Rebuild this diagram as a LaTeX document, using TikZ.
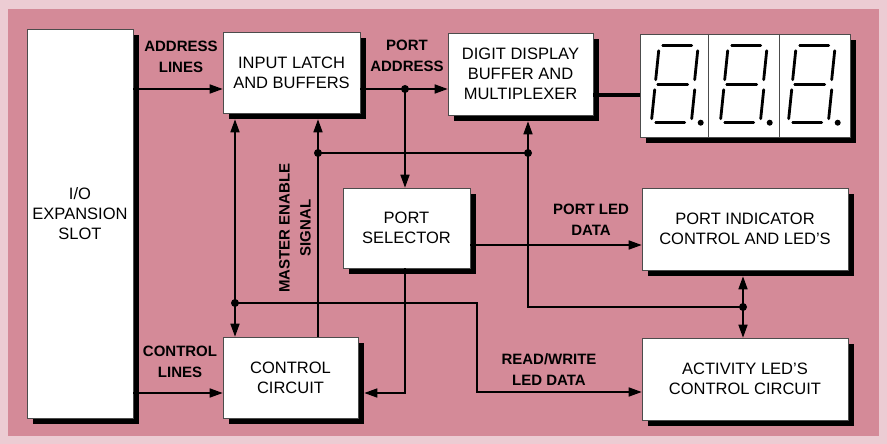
\documentclass[tikz,border=0pt]{standalone}
\usepackage{fontspec}
\setmainfont{Liberation Sans}
\usepackage{xcolor}
\usetikzlibrary{calc, positioning, arrows.meta, shadows}

\definecolor{board}{RGB}{212,138,152}
\definecolor{rim}{RGB}{236,204,211}

\begin{document}
\begin{tikzpicture}[x=1pt, y=-1pt,
  blk/.style={draw=black!70, fill=white, line width=0.6pt, align=center, font=\fontsize{16.5}{20}\selectfont,
    drop shadow={shadow xshift=6pt, shadow yshift=-6pt, fill=black, opacity=1}},
  lbl/.style={align=center, font=\bfseries\fontsize{15}{21}\selectfont},
  wire/.style={line width=1.6pt},
  arr/.style={wire, -{Triangle[length=13pt, width=9pt]}},
  seg/.style={line width=2.8pt, line cap=round}]
\fill[rim] (0,0) rectangle (887,444);
\fill[board] (8,9) rectangle (879,436);

% blocks
\node[blk, minimum width=106pt, minimum height=389pt] (slot) at (80,223.5) {I/O\\EXPANSION\\SLOT\\\mbox{}};
\node[blk, minimum width=137pt, minimum height=81pt] (latch) at (291.5,72.5) {INPUT LATCH\\AND BUFFERS};
\node[blk, minimum width=145pt, minimum height=82pt] (digit) at (520.5,74) {DIGIT DISPLAY\\BUFFER AND\\MULTIPLEXER};
\node[blk, minimum width=210pt, minimum height=103pt, inner sep=0pt] (disp) at (745,85.5) {};
\node[blk, minimum width=127pt, minimum height=80pt] (psel) at (406.5,228) {PORT\\SELECTOR};
\node[blk, minimum width=206pt, minimum height=82pt] (pind) at (745,229) {PORT INDICATOR\\CONTROL AND LED'S};
\node[blk, minimum width=135pt, minimum height=81pt] (ctrl) at (290.5,377.5) {CONTROL\\CIRCUIT};
\node[blk, minimum width=206pt, minimum height=82pt] (act) at (745,379) {ACTIVITY LED'S\\CONTROL CIRCUIT};

% seven segment digits
\foreach \dx in {69,140}
  \draw[black!70, line width=0.6pt] ($(disp.north west)+(\dx,0)$) -- ($(disp.south west)+(\dx,0)$);
\foreach \dx in {0,69,137} {
  \begin{scope}[shift={($(disp.north west)+(\dx,0)$)}]
    \draw[seg] (23,12) -- (52,12);
    \draw[seg] (19,17) -- (16,46);
    \draw[seg] (58,17) -- (55,46);
    \draw[seg] (18,51) -- (48,51);
    \draw[seg] (15,56) -- (12,85);
    \draw[seg] (55,56) -- (52,85);
    \draw[seg] (16,89) -- (45,89);
    \fill (61,89) circle (3pt);
  \end{scope}
}

% junctions and bus levels
\coordinate (pa) at (405,89);
\coordinate (me) at (318,153);
\coordinate (dd) at (528,153);
\coordinate (rw) at (235,303);
\coordinate (led) at (743,307);
\coordinate (dl) at (0,95);
\coordinate (pl) at (0,245);
\coordinate (cb) at (405,393);
\coordinate (rwb) at (477,392);

% connectors
\draw[arr] (slot.east |- pa) -- (latch.west |- pa);
\draw[wire] (latch.east |- pa) -- (pa);
\draw[arr] (pa) -- (digit.west |- pa);
\draw[arr] (pa) -- (pa |- psel.north);
\draw[line width=3.5pt] (digit.east |- dl) -- (disp.west |- dl);

\draw[arr, shorten >=6pt] (me |- ctrl.north) -- (me |- latch.south);
\draw[wire] (me) -- (dd);
\draw[arr, shorten >=6pt] (dd) -- (dd |- digit.south);
\draw[wire] (dd) |- (led);
\draw[arr, shorten >=6pt] (led) -- (led |- pind.south);
\draw[arr] (led) -- (led |- act.north);

\draw[arr, shorten >=6pt] (rw) -- (rw |- latch.south);
\draw[arr] (rw) -- (rw |- ctrl.north);
\draw[arr] (rw) -| (rwb) -- (act.west |- rwb);

\draw[arr] (psel.east |- pl) -- (pind.west |- pl);
\draw[arr, shorten >=6pt] (cb |- psel.south) -- (cb) -- (ctrl.east |- cb);
\draw[arr] (slot.east |- cb) -- (ctrl.west |- cb);

\foreach \j in {pa,me,dd,rw,led}
  \fill (\j) circle (4pt);

% labels
\node[lbl] (addrlbl) at (181,57) {ADDRESS\\LINES};
\node[lbl] (portlbl) at (407,56) {PORT\\ADDRESS};
\node[lbl] (ledlbl) at (591,220) {PORT LED\\DATA};
\node[lbl] (rwlbl) at (549,370) {READ/WRITE\\LED DATA};
\node[lbl] (ctrllbl) at (180,362) {CONTROL\\LINES};
\node[lbl, rotate=90] (melbl) at (295,228) {MASTER ENABLE\\SIGNAL};
\end{tikzpicture}
\end{document}
